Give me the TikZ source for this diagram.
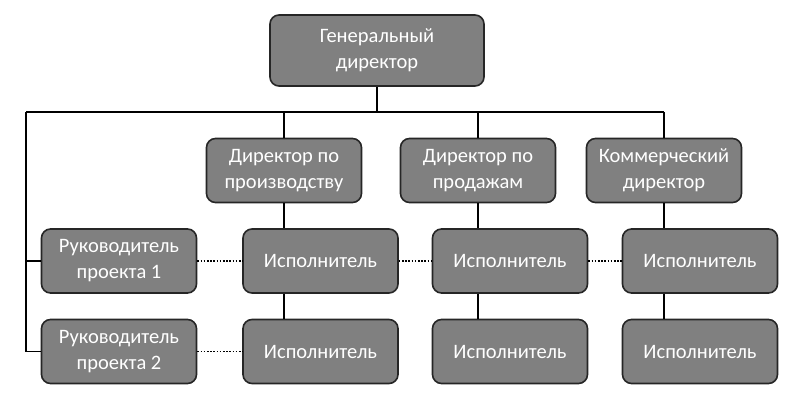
\documentclass[tikz,border=0pt]{standalone}
\usepackage{fontspec}
\setmainfont{Carlito}
\usepackage{tikz}

\begin{document}
\begin{tikzpicture}[x=1pt, y=-1pt,
  post/.style={draw=black!85, line width=1.6pt, fill=black!50, rounded corners=9pt, text=white, align=center, minimum width=155pt, minimum height=64pt, inner sep=0pt, font=\fontsize{20.5}{26}\selectfont},
  link/.style={line width=1.6pt},
  dots/.style={line width=1.6pt, dash pattern=on 1.6pt off 1.6pt}]
\useasboundingbox (0,0) rectangle (803,403);
\node[post, minimum width=214pt, minimum height=71pt] (G) at (377,50.5) {Генеральный\\директор};
\node[post] (D1) at (284,170.5) {Директор по\\производству};
\node[post] (D2) at (478,170.5) {Директор по\\продажам};
\node[post] (D3) at (664,170.5) {Коммерческий\\директор};
\node[post] (R1) at (119,261) {Руководитель\\проекта 1};
\node[post] (R2) at (119,351.5) {Руководитель\\проекта 2};
\node[post] (E1) at (320.5,261) {Исполнитель};
\node[post] (E2) at (510,261) {Исполнитель};
\node[post] (E3) at (700,261) {Исполнитель};
\node[post] (F1) at (320.5,351.5) {Исполнитель};
\node[post] (F2) at (510,351.5) {Исполнитель};
\node[post] (F3) at (700,351.5) {Исполнитель};
\coordinate (L) at (26,112);
% bus
\draw[link] (G.south) -- (G.south |- L);
\draw[link] (L) -- (D3.north |- L);
\draw[link] (D1.north |- L) -- (D1.north);
\draw[link] (D2.north |- L) -- (D2.north);
\draw[link] (D3.north |- L) -- (D3.north);
\draw[link] (L) |- (R2.west);
\draw[link] (L |- R1.west) -- (R1.west);
% columns
\draw[link] (D1.south) -- (D1.south |- E1.north);
\draw[link] (D2.south) -- (D2.south |- E2.north);
\draw[link] (D3.south) -- (D3.south |- E3.north);
\draw[link] (D1.south |- E1.south) -- (D1.south |- F1.north);
\draw[link] (D2.south |- E2.south) -- (D2.south |- F2.north);
\draw[link] (D3.south |- E3.south) -- (D3.south |- F3.north);
% dotted
\draw[dots] (R1.east) -- (E1.west);
\draw[dots] (E1.east) -- (E2.west);
\draw[dots] (E2.east) -- (E3.west);
\draw[dots] (R2.east) -- (F1.west);
\end{tikzpicture}
\end{document}
